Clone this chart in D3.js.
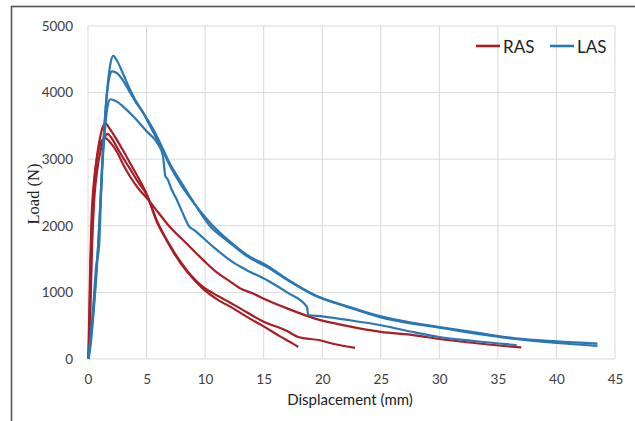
<!DOCTYPE html>
<html>
<head>
<meta charset="utf-8">
<script src="https://cdn.jsdelivr.net/npm/d3@7"></script>
<style>
  body { margin: 0; background: #fff; }
  svg { display: block; }
</style>
</head>
<body>
<div id="chart"></div>
<script>
// displacement (mm), load (N) pairs
const ras1 = [[0.05,0],[0.12,500],[0.2,1200],[0.3,1900],[0.45,2450],[0.7,2950],[1.0,3300],[1.3,3500],[1.5,3540],[1.8,3470],[2.5,3280],[3,3130],[3.6,2940],[4.3,2720],[5,2480],[5.9,2050],[6.5,1850],[7.3,1600],[8.5,1300],[9.85,1050],[11,900],[12.4,760],[13.5,640],[15,490],[16.4,340],[17.5,230],[17.95,180]];
const ras2 = [[0.05,0],[0.2,700],[0.35,1700],[0.5,2300],[0.8,2850],[1.1,3150],[1.4,3320],[1.68,3380],[2,3320],[2.5,3170],[3,3020],[3.6,2850],[4.3,2650],[5,2470],[5.9,2070],[7.3,1620],[8.5,1320],[9.85,1080],[10.7,985],[12,860],[13,760],[15,560],[17,420],[17.95,331],[19.8,281],[21,225],[22.8,168]];
const ras3 = [[0.03,0],[0.1,600],[0.2,1500],[0.3,2100],[0.5,2650],[0.8,3050],[1.1,3250],[1.45,3315],[2,3230],[2.5,3100],[3,2920],[3.6,2737],[4.3,2560],[5,2420],[6,2200],[6.9,2000],[8.5,1720],[9.85,1484],[11,1300],[12,1180],[13,1060],[14,990],[15.3,883],[17,760],[19.4,607],[22,500],[25,406],[27.9,356],[30,300],[33,240],[36.5,181],[37,175]];

const las1 = [[0.02,0],[0.2,250],[0.45,700],[0.7,1300],[0.88,1750],[1.0,2150],[1.15,2700],[1.3,3200],[1.5,3750],[1.7,4150],[1.9,4420],[2.15,4550],[2.5,4470],[3,4280],[3.5,4080],[4,3900],[4.7,3700],[5.5,3430],[6.2,3200],[7,2900],[8,2600],[8.85,2385],[10.4,2050],[12,1780],[13.6,1560],[15.3,1400],[17,1200],[19.4,958],[22,800],[25,640],[27.9,540],[30,480],[33,400],[36.5,310],[40,265],[43.5,232]];
const las2 = [[0.05,0],[0.25,250],[0.5,750],[0.75,1350],[0.9,1800],[1.05,2300],[1.2,2900],[1.4,3500],[1.6,3950],[1.85,4250],[2.05,4320],[2.5,4290],[3,4180],[3.5,4030],[4,3880],[4.7,3700],[5.5,3470],[6.2,3230],[7,2930],[8,2640],[8.85,2400],[10.4,2000],[12,1760],[13.6,1540],[15.3,1380],[17,1190],[19.4,950],[22,790],[25,625],[27.9,525],[30,470],[33,385],[36.5,300],[40,240],[43.5,196]];
const las3 = [[0.03,0],[0.2,300],[0.45,800],[0.7,1400],[0.95,1700],[1.1,2400],[1.3,3100],[1.5,3550],[1.7,3820],[1.9,3900],[2.5,3860],[3,3790],[4,3620],[5,3420],[6,3220],[6.4,3050],[6.6,2750],[6.8,2700],[7.1,2560],[7.5,2420],[8.1,2186],[8.6,2000],[9.1,1930],[10.7,1684],[12.4,1450],[13.6,1330],[15.3,1183],[17,1000],[18.7,782],[18.8,660],[20,640],[22,590],[25,507],[27.9,400],[30,330],[33,270],[36.6,210]];

const seriesNames = ["RAS", "LAS"];
const xTicks = [0, 5, 10, 15, 20, 25, 30, 35, 40, 45];
const yTicks = [0, 1000, 2000, 3000, 4000, 5000];

const colors = { RAS: "#a91d24", LAS: "#2878b5" };
const curves = [
  { name: "RAS", pts: ras1 }, { name: "RAS", pts: ras2 }, { name: "RAS", pts: ras3 },
  { name: "LAS", pts: las1 }, { name: "LAS", pts: las2 }, { name: "LAS", pts: las3 }
];

const W = 635, H = 421;
const margin = { top: 26, right: 20, bottom: 62, left: 88 };
const width = W - margin.left - margin.right;
const height = H - margin.top - margin.bottom;

const svg = d3.select("#chart").append("svg")
  .attr("width", W)
  .attr("height", H);

// outer frame
svg.append("rect")
  .attr("x", 11.5).attr("y", 6.5)
  .attr("width", 700).attr("height", 500)
  .attr("fill", "none")
  .attr("stroke", "#555")
  .attr("stroke-width", 1.6);

const g = svg.append("g")
  .attr("transform", `translate(${margin.left},${margin.top})`);

const x = d3.scaleLinear().domain([0, 45]).range([0, width]);
const y = d3.scaleLinear().domain([0, 5000]).range([height, 0]);

// grid
g.append("g").selectAll("line")
  .data(yTicks).enter().append("line")
  .attr("x1", 0).attr("x2", width)
  .attr("y1", d => y(d)).attr("y2", d => y(d))
  .attr("stroke", "#d9d9d9").attr("stroke-width", 1);

g.append("g").selectAll("line")
  .data(xTicks).enter().append("line")
  .attr("x1", d => x(d)).attr("x2", d => x(d))
  .attr("y1", 0).attr("y2", height)
  .attr("stroke", "#d9d9d9").attr("stroke-width", 1);

const tickFont = "Lato, 'Open Sans', sans-serif";

g.append("g")
  .attr("transform", `translate(0,${height})`)
  .call(d3.axisBottom(x).tickValues(xTicks).tickFormat(d3.format("d")).tickSize(0).tickPadding(15))
  .call(a => a.select(".domain").remove())
  .selectAll("text")
  .style("font-family", tickFont)
  .style("font-size", "13.5px")
  .style("fill", "#404040");

g.append("g")
  .call(d3.axisLeft(y).tickValues(yTicks).tickFormat(d3.format("d")).tickSize(0).tickPadding(15))
  .call(a => a.select(".domain").remove())
  .selectAll("text")
  .style("font-family", tickFont)
  .style("font-size", "13.5px")
  .style("fill", "#404040");

// curves
const line = d3.line()
  .x(d => x(d[0]))
  .y(d => y(d[1]))
  .curve(d3.curveMonotoneX);

g.append("g").selectAll("path")
  .data(curves).enter().append("path")
  .attr("d", d => line(d.pts))
  .attr("fill", "none")
  .attr("stroke", d => colors[d.name])
  .attr("stroke-width", 2.2)
  .attr("stroke-linejoin", "round");

// axis titles
svg.append("text")
  .attr("x", 350).attr("y", 405)
  .attr("text-anchor", "middle")
  .style("font-family", tickFont)
  .style("font-size", "15px")
  .style("fill", "#222")
  .text("Displacement (mm)");

svg.append("text")
  .attr("transform", "translate(39,194) rotate(-90)")
  .attr("text-anchor", "middle")
  .style("font-family", "'Liberation Serif', 'DejaVu Serif', serif")
  .style("font-size", "16.5px")
  .style("fill", "#222")
  .text("Load (N)");

// legend
const legend = svg.append("g").attr("transform", "translate(476,46)");
seriesNames.forEach((name, i) => {
  const lg = legend.append("g").attr("transform", `translate(${i * 74},0)`);
  lg.append("line")
    .attr("x1", 0).attr("x2", 24)
    .attr("y1", 0).attr("y2", 0)
    .attr("stroke", colors[name])
    .attr("stroke-width", 2.6);
  lg.append("text")
    .attr("x", 27).attr("y", 6.5)
    .style("font-family", tickFont)
    .style("font-size", "17px")
    .style("fill", "#222")
    .text(name);
});
</script>
</body>
</html>
